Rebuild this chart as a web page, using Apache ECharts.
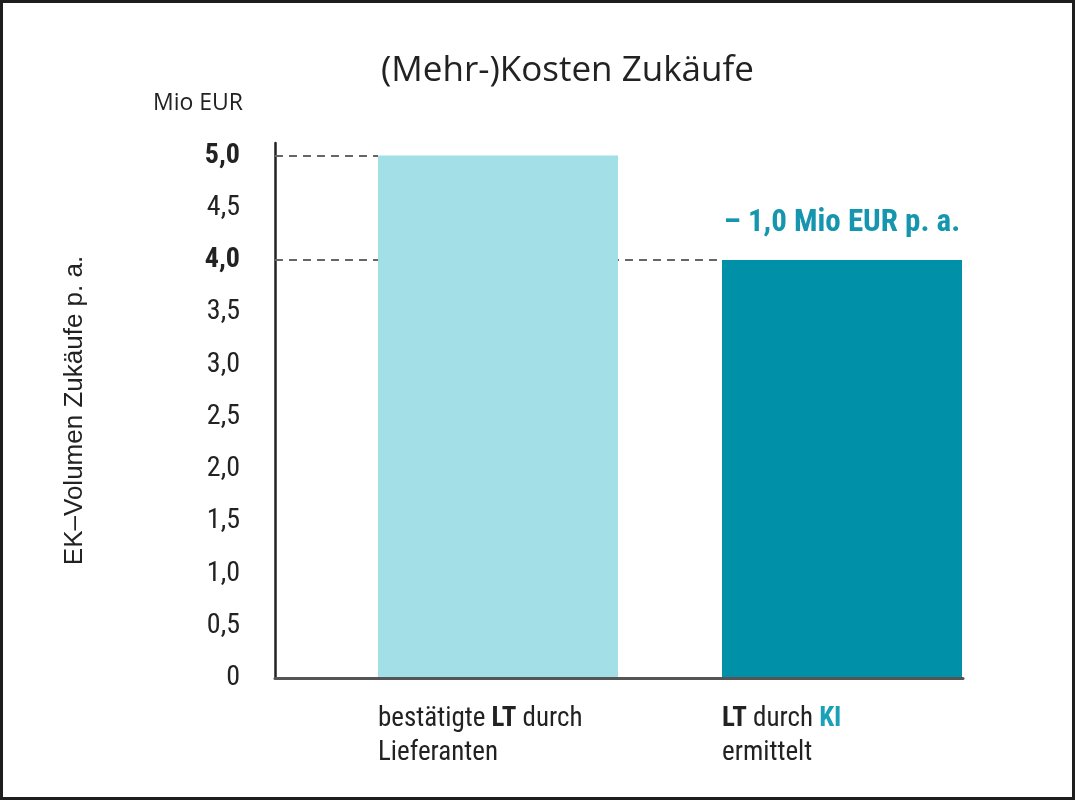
<!DOCTYPE html>
<html><head><meta charset="utf-8">
<script src="https://cdn.jsdelivr.net/npm/echarts@6/dist/echarts.min.js"></script>
<style>
html,body{margin:0;padding:0;background:#fff}
#wrap{position:relative;width:1075px;height:800px}
#c{width:1075px;height:800px}
#frame{position:absolute;left:0;top:0;width:1075px;height:800px;box-sizing:border-box;border:3px solid #1e1e1e;pointer-events:none}
</style></head>
<body><div id="wrap"><div id="c"></div><div id="frame"></div></div>
<script>
// ---- data ----
const categories = ['bestätigte {b|LT} durch\nLieferanten', '{b|LT} durch {k|KI}\nermittelt'];
const values = [5.0, 4.0];
const yMin = 0;
const yMax = 5.12;
const yStep = 0.5;
const titleText = '(Mehr-)Kosten Zukäufe';
const yUnit = 'Mio EUR';
const yTitle = 'EK–Volumen Zukäufe p. a.';
const annotUnit = ' Mio EUR p. a.';

// ---- styles ----
const barColors = ['#a3dfe6', '#0090a8'];
const teal = '#1596ae';
const COND = '"Roboto Condensed", "DejaVu Sans Condensed", sans-serif';
const WIDE = '"Open Sans", "Noto Sans", sans-serif';
const GRID = {left: 275, right: 112, top: 143, bottom: 122};

const fmt = v => v === 0 ? '0' : v.toFixed(1).replace('.', ',');
const plain = s => s.replace(/\{\w+\|([^}]*)\}/g, '$1').replace('\n', ' ');

const chart = echarts.init(document.getElementById('c'), null, {renderer: 'canvas'});
chart.setOption({
  animation: false,
  title: {
    text: titleText, left: 381, top: 54, padding: 0,
    textStyle: {fontFamily: WIDE, fontSize: 35, fontWeight: 'normal', color: '#222'}
  },
  grid: GRID,
  xAxis: {
    type: 'category', data: categories.map(plain), z: 3,
    axisLine: {show: true, lineStyle: {color: '#555', width: 3}},
    axisTick: {show: false}, axisLabel: {show: false}, splitLine: {show: false}
  },
  yAxis: [{
    type: 'value', min: yMin, max: yMax, interval: yStep,
    name: yUnit, nameLocation: 'end', nameGap: 40,
    nameTextStyle: {fontFamily: WIDE, fontSize: 23, color: '#222', align: 'right', verticalAlign: 'middle', padding: [0, 32, 0, 0]},
    axisLine: {show: true, lineStyle: {color: '#222', width: 2.5}},
    axisTick: {show: false}, splitLine: {show: false},
    axisLabel: {
      margin: 35, showMaxLabel: false,
      fontFamily: COND, fontSize: 28, color: '#222',
      formatter: v => values.indexOf(v) >= 0 ? '{b|' + fmt(v) + '}' : fmt(v),
      rich: {b: {fontFamily: COND, fontSize: 28, fontWeight: 'bold', color: '#222'}}
    }
  }, {
    type: 'value', min: yMin, max: yMax, interval: yStep, position: 'left',
    name: yTitle, nameLocation: 'middle', nameGap: 187, nameRotate: 90,
    nameTextStyle: {fontFamily: '"Liberation Sans", Arial, sans-serif', fontSize: 26, color: '#222'},
    axisLine: {show: false}, axisTick: {show: false}, axisLabel: {show: false}, splitLine: {show: false}
  }],
  series: [{
    name: 'spacer', type: 'bar', barWidth: 102, barGap: '0%', silent: true,
    data: values.map(() => '-'), itemStyle: {color: 'transparent'}
  }, {
    name: 'Volumen', type: 'bar', barWidth: 240, barGap: '0%', yAxisIndex: 0,
    data: values.map((v, i) => ({value: v, itemStyle: {color: barColors[i]}})),
    label: {
      show: true, position: ['0%', '100%'], offset: [0, 24], align: 'left', verticalAlign: 'top',
      formatter: p => categories[p.dataIndex],
      fontFamily: COND, fontSize: 27, lineHeight: 34, color: '#222',
      rich: {
        b: {fontFamily: COND, fontSize: 27, lineHeight: 34, fontWeight: 'bold', color: '#222'},
        k: {fontFamily: COND, fontSize: 27, lineHeight: 34, fontWeight: 'bold', color: '#1aa0b8'}
      }
    },
    markLine: {
      silent: true, z: 1, symbol: ['none', 'none'], label: {show: false},
      lineStyle: {color: '#666', width: 2, type: [8, 6]},
      emphasis: {disabled: true},
      data: []
    },
    markPoint: {
      silent: true, symbol: 'circle', symbolSize: 0,
      data: [{coord: [1, values[1]], value: values[0] - values[1]}],
      label: {
        show: true, position: 'top', distance: 21,
        formatter: p => '– ' + fmt(p.value) + annotUnit,
        fontFamily: COND, fontSize: 31, fontWeight: 'bold', color: teal
      }
    }
  }]
});

// dashed reference lines: from the y axis to the left edge of the bar carrying that value
const barData = chart.getModel().getSeriesByIndex(1).getData();
const refLines = values.map((v, i) => {
  const l = barData.getItemLayout(i);
  return [{yAxis: v, x: GRID.left}, {yAxis: v, x: Math.min(l.x, l.x + l.width)}];
});
chart.setOption({series: [{}, {markLine: {data: refLines}}]});
</script></body></html>
